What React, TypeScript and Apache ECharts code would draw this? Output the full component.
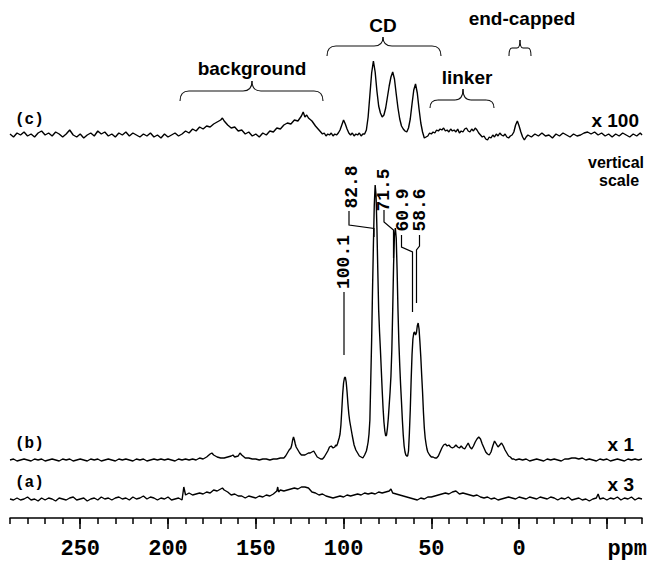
import React, { useEffect, useRef } from 'react';
import * as echarts from 'echarts';

// ---------- axis ----------
const PPM_MIN = -70;
const PPM_MAX = 290;
const TICK_LABELS = [250, 200, 150, 100, 50, 0];
const MAJOR_TICKS = [250, 200, 150, 100, 50, 0, -50];
const MINOR_TICKS = [290, 280, 270, 260, 250, 240, 230, 220, 210, 200, 190, 180, 170, 160, 150, 140, 130, 120, 110, 100, 90, 80, 70, 60, 50, 40, 30, 20, 10, 0, -10, -20, -30, -40, -50, -60, -70];

// ---------- trace (c) x100 : [ppm, intensity] ----------
const TRACE_C: [number, number][] = [
  [290, 1], [288, -2], [286, 2], [284, 0], [282, 3], [280, -1], [278, 1], [276, -2], [274, 2], [272, 4],
  [270, 0], [268, 2], [266, -1], [264, 3], [262, 1], [260, -2], [258, 1], [256, 5], [254, 0], [252, -2],
  [250, 1], [248, -3], [246, 0], [244, 2], [242, -1], [240, 4], [238, 1], [236, 3], [234, -1], [232, 1],
  [230, -2], [228, 2], [226, 0], [224, 3], [222, -1], [220, 2], [218, 0], [216, -2], [214, 1], [212, -1],
  [210, 2], [208, -2], [206, 0], [204, -3], [202, 1], [200, -2], [198, 0], [196, 2], [194, -1], [192, 1],
  [190, 4], [188, 2], [186, 6], [184, 4], [182, 8], [180, 6], [178, 9], [176, 8], [174, 11], [172, 13],
  [170, 15], [169, 17], [168, 14], [166, 10], [164, 7], [162, 8], [160, 4], [158, 5], [156, 1], [154, 3],
  [152, -1], [150, 1], [148, -2], [146, 2], [144, 0], [142, 4], [140, 3], [138, 7], [136, 6], [134, 10],
  [132, 12], [130, 11], [128, 15], [126, 14], [124, 19], [123, 23], [122, 18], [121, 20], [120, 17], [118, 14],
  [116, 9], [114, 5], [112, 1], [111, 2], [110, -1], [109, 1], [108, 0], [107, 2], [106, -1], [105, 1],
  [104, 0], [103, 2], [102, 5], [101, 10], [100, 15], [99, 11], [98, 6], [97, 2], [96, 0], [95, 2],
  [94, -1], [93, 1], [92, 0], [91, 2], [90, -1], [89, 1], [88, 1], [87, 5], [86, 18], [85, 40],
  [84, 62], [83, 74], [82, 63], [81, 44], [80, 29], [79, 22], [78, 18], [77, 20], [76, 27], [75, 38],
  [74, 49], [73, 58], [72, 63], [71, 56], [70, 41], [69, 27], [68, 16], [67, 9], [66, 6], [65, 4],
  [64, 3], [63, 7], [62, 16], [61, 31], [60, 45], [59, 51], [58, 42], [57, 26], [56, 12], [55, 3],
  [54, -3], [53, -2], [52, -1], [51, 2], [50, 1], [49, 3], [48, 2], [47, 5], [46, 4], [45, 6],
  [44, 5], [43, 7], [42, 4], [41, 5], [40, 3], [39, 6], [38, 4], [37, 5], [36, 3], [35, 6],
  [34, 2], [33, 4], [32, 3], [31, 6], [30, 7], [29, 4], [28, 3], [27, 6], [26, 4], [25, 7],
  [24, 5], [23, 2], [22, 0], [21, -2], [20, -1], [19, -4], [18, -5], [17, -2], [16, -3], [15, 0],
  [14, -2], [13, 1], [12, -1], [11, 2], [10, 0], [9, -1], [8, 1], [7, -2], [6, -3], [5, -1],
  [4, 0], [3, 3], [2, 10], [1, 14], [0, 9], [-1, 3], [-2, -2], [-3, -5], [-4, -2], [-5, 0],
  [-7, -2], [-9, 1], [-11, -1], [-13, 2], [-15, -1], [-17, 0], [-19, -3], [-21, 1], [-23, -1], [-25, 2],
  [-27, 0], [-29, -2], [-31, 1], [-33, -1], [-35, 0], [-37, 2], [-39, 3], [-41, 1], [-43, 3], [-45, 0],
  [-47, 2], [-49, -1], [-51, 1], [-53, -2], [-55, 1], [-57, -1], [-59, 2], [-61, 0], [-63, -2], [-65, 1],
  [-67, -1], [-69, 2], [-70, 0],
];

// ---------- trace (b) x1 ----------
const TRACE_B: [number, number][] = [
  [290, 0], [288, 1], [286, -1], [284, 0], [282, 1], [280, 0], [278, -1], [276, 1], [274, 0], [272, 1],
  [270, -1], [268, 0], [266, 1], [264, 0], [262, -1], [260, 1], [258, 0], [256, 1], [254, -1], [252, 0],
  [250, 1], [248, 0], [246, -1], [244, 1], [242, 0], [240, 1], [238, -1], [236, 0], [234, 1], [232, 0],
  [230, -1], [228, 1], [226, 0], [224, 1], [222, 0], [220, -1], [218, 1], [216, 0], [214, 1], [212, -1],
  [210, 0], [208, 1], [206, 0], [204, 1], [202, 0], [200, 1], [198, 0], [196, -1], [194, 1], [192, 0],
  [190, 1], [188, 0], [186, 1], [184, 0], [182, 2], [180, 1], [178, 3], [176, 6], [175, 7], [174, 5],
  [172, 3], [170, 2], [168, 2], [166, 3], [164, 4], [163, 5], [162, 3], [160, 4], [159, 7], [158, 5],
  [156, 2], [154, 2], [152, 1], [150, 1], [148, 0], [146, 1], [144, 1], [142, 0], [140, 1], [138, 1],
  [136, 2], [134, 2], [133, 4], [132, 7], [131, 10], [130, 12], [129.5, 15], [129, 20], [128.5, 23], [128, 20],
  [127.5, 16], [127, 13], [126, 10], [125, 7], [124, 5], [123, 5], [122, 5], [121, 6], [120, 7], [119, 7],
  [118, 8], [117, 9], [116, 6], [115, 3], [114, 2], [113, 1], [112, 1], [111, 3], [110, 6], [109, 9],
  [108, 13], [107, 14], [106, 12], [105, 13], [104.5, 15], [104, 14], [103.5, 16], [103, 19], [102.5, 22], [102, 26],
  [101.5, 35], [101, 50], [100.5, 66], [100, 77], [99.5, 82], [99, 83], [98.5, 78], [98, 68], [97.5, 56], [97, 46],
  [96.5, 39], [96, 34], [95.5, 29], [95, 24], [94, 15], [93, 10], [92, 7], [91, 4], [90, 3], [89, 2],
  [88, 5], [87, 9], [86.5, 13], [86, 18], [85.5, 26], [85, 40], [84.5, 80], [84, 120], [83.5, 170], [83, 215],
  [82.5, 255], [82, 275], [81.5, 265], [81, 232], [80.5, 190], [80, 150], [79.5, 128], [79, 110], [78.5, 90], [78, 70],
  [77.5, 52], [77, 38], [76.5, 29], [76, 24], [75.5, 25], [75, 32], [74.5, 42], [74, 55], [73.5, 68], [73, 84],
  [72.5, 110], [72, 150], [71.5, 195], [71, 225], [70.5, 232], [70, 222], [69.5, 190], [69, 150], [68.5, 118], [68, 95],
  [67.5, 75], [67, 58], [66.5, 40], [66, 25], [65.5, 14], [65, 8], [64.5, 5], [64, 4], [63.5, 4], [63, 9],
  [62.5, 27], [62, 50], [61.5, 80], [61, 105], [60.5, 121], [60, 127], [59.5, 128], [59, 125], [58.5, 127], [58, 134],
  [57.5, 137], [57, 131], [56.5, 118], [56, 103], [55.5, 85], [55, 68], [54.5, 48], [54, 32], [53.5, 22], [53, 16],
  [52.5, 11], [52, 8], [51, 5], [50, 3], [49, 3], [48, 2], [47, 2], [46, 4], [45, 8], [44, 12],
  [43, 15], [42, 16], [41, 14], [40, 15], [39, 13], [38, 12], [37, 13], [36, 15], [35, 13], [34, 12],
  [33, 14], [32, 12], [31, 11], [30, 14], [29, 17], [28, 13], [27, 11], [26, 14], [25, 18], [24, 21],
  [23, 23], [22, 21], [21, 16], [20, 12], [19, 8], [18, 6], [17, 5], [16, 8], [15, 14], [14, 19],
  [13, 16], [12, 13], [11, 15], [10, 17], [9, 14], [8, 10], [7, 7], [6, 4], [5, 3], [4, 1],
  [3, 1], [2, 0], [0, 1], [-2, 0], [-4, 1], [-6, -1], [-8, 0], [-10, 1], [-12, 0], [-14, -1],
  [-16, 1], [-18, 0], [-20, 1], [-22, 0], [-24, -1], [-26, 1], [-28, 1], [-30, 2], [-32, 2], [-34, 1],
  [-36, 2], [-38, 0], [-40, 1], [-42, 0], [-44, -1], [-46, 1], [-48, 0], [-50, 1], [-52, -1], [-54, 0],
  [-56, 1], [-58, 0], [-60, -1], [-62, 1], [-64, 0], [-66, 1], [-68, 0], [-70, 1],
];

// ---------- trace (a) x3 ----------
const TRACE_A: [number, number][] = [
  [290, 0], [288, -1], [286, 1], [284, -1], [282, 0], [280, 2], [278, -1], [276, 0], [274, -2], [272, 1],
  [270, -1], [268, 1], [266, 0], [264, -2], [262, 1], [260, 0], [258, -1], [256, 1], [254, 2], [252, -1],
  [250, 0], [248, 1], [246, -2], [244, 0], [242, 1], [240, -1], [238, 2], [236, 0], [234, 1], [232, -1],
  [230, 1], [228, 2], [226, 0], [224, 1], [222, -1], [220, 2], [218, 0], [216, 1], [214, 3], [212, 0],
  [210, 2], [208, 1], [206, -1], [204, 1], [202, 0], [200, 2], [198, -1], [196, 0], [194, 1], [192, -1],
  [191, 12], [190, 4], [188, 6], [186, 4], [184, 5], [182, 6], [180, 5], [178, 7], [176, 6], [174, 9],
  [172, 8], [170, 10], [169, 11], [168, 9], [166, 7], [164, 4], [162, 5], [160, 3], [158, 3], [156, 1],
  [154, 3], [152, 2], [150, 1], [148, 3], [146, 2], [144, 4], [142, 3], [140, 5], [138, 8], [137.5, 12],
  [137, 7], [136, 9], [134, 8], [132, 9], [130, 10], [128, 11], [126, 10], [124, 12], [122, 12], [120, 11],
  [118, 7], [116, 6], [114, 4], [112, 5], [110, 3], [108, 2], [106, 1], [104, 2], [102, 3], [100, 2],
  [98, 4], [96, 3], [94, 4], [92, 5], [90, 4], [88, 6], [86, 5], [84, 6], [82, 5], [80, 7],
  [78, 6], [76, 7], [74, 8], [73, 10], [72, 6], [70, 5], [68, 4], [66, 3], [64, 2], [62, 1],
  [60, 0], [58, -1], [56, 1], [54, 0], [52, 2], [50, 2], [48, 3], [46, 4], [44, 5], [42, 6],
  [40, 5], [38, 7], [36, 8], [34, 5], [32, 6], [30, 5], [28, 4], [26, 3], [24, 4], [22, 2],
  [20, 1], [18, 2], [16, 0], [14, 1], [12, -1], [10, 0], [8, 1], [6, 2], [4, 1], [2, 0],
  [0, 2], [-2, 1], [-4, 0], [-6, 2], [-8, 1], [-10, 0], [-12, 2], [-14, 1], [-16, 0], [-18, 2],
  [-20, 1], [-22, -1], [-24, 1], [-26, 0], [-28, 2], [-30, -1], [-32, 0], [-34, 1], [-36, -1], [-38, 0],
  [-40, -2], [-42, 0], [-44, 1], [-45, 5], [-46, 0], [-48, 1], [-50, -1], [-52, 1], [-54, 0], [-56, 2],
  [-58, -1], [-60, 1], [-62, 0], [-64, 2], [-66, -1], [-68, 1], [-70, 0],
];

const TRACE_LABELS = ['(c)', '(b)', '(a)'];
const SCALE_LABELS = ['x 100', 'x 1', 'x 3'];
const REGION_LABELS = ['background', 'CD', 'linker', 'end-capped'];
const PEAK_LABELS = ['100.1', '82.8', '71.5', '60.9', '58.6'];

const SANS = '"Liberation Sans", Arial, sans-serif';
const MONO = '"Liberation Mono", "Courier New", monospace';

function brace(xL: number, xR: number, xM: number, yB: number, yH: number, yT: number, r: number) {
  const style = { stroke: '#111', lineWidth: 1.1, fill: 'none' };
  return [
    { type: 'bezierCurve', shape: { x1: xL, y1: yB, x2: xL + r, y2: yH, cpx1: xL, cpy1: yH }, style },
    { type: 'line', shape: { x1: xL + r, y1: yH, x2: xM - r, y2: yH }, style },
    { type: 'bezierCurve', shape: { x1: xM - r, y1: yH, x2: xM, y2: yT, cpx1: xM, cpy1: yH }, style },
    { type: 'bezierCurve', shape: { x1: xM, y1: yT, x2: xM + r, y2: yH, cpx1: xM, cpy1: yH }, style },
    { type: 'line', shape: { x1: xM + r, y1: yH, x2: xR - r, y2: yH }, style },
    { type: 'bezierCurve', shape: { x1: xR - r, y1: yH, x2: xR, y2: yB, cpx1: xR, cpy1: yH }, style },
  ];
}

function txt(text: string, x: number, y: number, font: string, size: number, align: string, rotation = 0) {
  return {
    type: 'text',
    x,
    y,
    rotation,
    style: {
      text,
      fontFamily: font,
      fontSize: size,
      fontWeight: 'bold',
      lineHeight: size,
      fill: '#000',
      align,
      verticalAlign: 'middle',
      textAlign: align,
      textVerticalAlign: 'middle',
    },
  };
}

function leader(points: number[][]) {
  return { type: 'polyline', shape: { points }, style: { stroke: '#000', lineWidth: 1.2, fill: 'none' } };
}

export default function App() {
  const ref = useRef<HTMLDivElement>(null);

  useEffect(() => {
    if (!ref.current) return;
    document.body.style.margin = '0';
    const chart = echarts.init(ref.current, null, { renderer: 'svg' });

    const hiddenX = (gridIndex: number) => ({
      type: 'value', gridIndex, min: PPM_MIN, max: PPM_MAX, inverse: true, show: false,
    });
    const hiddenY = (gridIndex: number, min: number, max: number) => ({
      type: 'value', gridIndex, min, max, show: false, splitLine: { show: false },
    });
    const gridBase = { left: 10, right: 9, containLabel: false, outerBoundsMode: 'none' };
    const lineSeries = (idx: number, data: [number, number][]) => ({
      type: 'line',
      xAxisIndex: idx,
      yAxisIndex: idx,
      data,
      showSymbol: false,
      symbol: 'none',
      silent: true,
      lineStyle: { color: '#000', width: 1.4 },
    });

    const graphic: any[] = [
      // trace labels
      txt(TRACE_LABELS[0], 15, 120, MONO, 16, 'left'),
      txt(TRACE_LABELS[1], 15, 444, MONO, 16, 'left'),
      txt(TRACE_LABELS[2], 15, 483, MONO, 16, 'left'),
      // vertical scale labels
      txt(SCALE_LABELS[0], 639, 120, SANS, 19, 'right'),
      txt(SCALE_LABELS[1], 634, 444, SANS, 19, 'right'),
      txt(SCALE_LABELS[2], 634, 484, SANS, 19, 'right'),
      txt('vertical', 616, 162, SANS, 16, 'center'),
      txt('scale', 619, 180, SANS, 16, 'center'),
      // region labels
      txt(REGION_LABELS[0], 252, 68, SANS, 19, 'center'),
      txt(REGION_LABELS[1], 383, 25, SANS, 19, 'center'),
      txt(REGION_LABELS[2], 467, 77, SANS, 19, 'center'),
      txt(REGION_LABELS[3], 522, 18, SANS, 19, 'center'),
      ...brace(180, 323, 252, 101, 91, 81, 9),
      ...brace(327, 441, 383, 56, 46, 37, 9),
      ...brace(430, 494, 463, 108, 100, 89, 8),
      ...brace(509, 531, 520, 56, 48, 40, 3),
      // peak labels (rotated) and leaders
      txt(PEAK_LABELS[0], 343.5, 262, MONO, 18, 'center', Math.PI / 2),
      txt(PEAK_LABELS[1], 351.5, 187, MONO, 18, 'center', Math.PI / 2),
      txt(PEAK_LABELS[2], 384, 190, MONO, 18, 'center', Math.PI / 2),
      txt(PEAK_LABELS[3], 402.5, 210, MONO, 18, 'center', Math.PI / 2),
      txt(PEAK_LABELS[4], 420, 210, MONO, 18, 'center', Math.PI / 2),
      leader([[344, 292], [344, 355]]),
      leader([[349, 211], [349, 225], [374, 228.5], [374, 237]]),
      leader([[384, 210], [384, 222], [393.5, 230], [393.5, 258]]),
      leader([[401.5, 235], [401.5, 247], [412.5, 252], [412.5, 312]]),
      leader([[419.5, 235], [419.5, 246], [416.5, 250], [416.5, 303]]),
      // axis unit
      txt('ppm', 647, 549, MONO, 22, 'right'),
    ];

    chart.setOption({
      animation: false,
      backgroundColor: '#fff',
      grid: [
        { ...gridBase, top: 35, height: 110 },
        { ...gridBase, top: 170, height: 300 },
        { ...gridBase, top: 479, height: 30 },
        { ...gridBase, top: 490, height: 28 },
        { ...gridBase, top: 490, height: 28 },
      ],
      xAxis: [
        hiddenX(0),
        hiddenX(1),
        hiddenX(2),
        {
          type: 'value', gridIndex: 3, min: PPM_MIN, max: PPM_MAX, inverse: true, position: 'bottom',
          axisLine: { show: true, onZero: false, lineStyle: { color: '#000', width: 1.5 } },
          axisTick: { show: true, length: 6, lineStyle: { color: '#000', width: 1.5 }, customValues: MINOR_TICKS },
          axisLabel: {
            show: true, customValues: TICK_LABELS, margin: 31, color: '#000', fontSize: 22, lineHeight: 22,
            fontWeight: 'bold', fontFamily: MONO, verticalAlign: 'middle',
          },
          splitLine: { show: false },
        },
        {
          type: 'value', gridIndex: 4, min: PPM_MIN, max: PPM_MAX, inverse: true, position: 'bottom',
          axisLine: { show: false, onZero: false },
          axisTick: { show: true, length: 11, lineStyle: { color: '#000', width: 1.5 }, customValues: MAJOR_TICKS },
          axisLabel: { show: false },
          splitLine: { show: false },
        },
      ],
      yAxis: [
        hiddenY(0, -10, 100),
        hiddenY(1, -10, 290),
        hiddenY(2, -10, 20),
        hiddenY(3, 0, 1),
        hiddenY(4, 0, 1),
      ],
      series: [
        lineSeries(0, TRACE_C),
        lineSeries(1, TRACE_B),
        lineSeries(2, TRACE_A),
      ],
      graphic,
    });

    return () => chart.dispose();
  }, []);

  return (
    <div
      ref={ref}
      style={{ position: 'fixed', left: 0, top: 0, width: 651, height: 562, background: '#fff' }}
    />
  );
}
